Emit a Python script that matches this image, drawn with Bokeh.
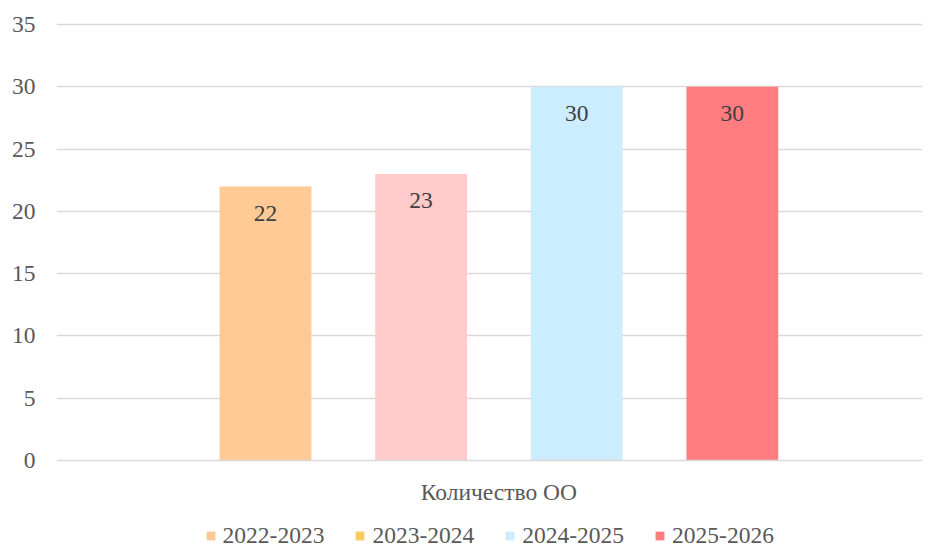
from bokeh.plotting import figure
from bokeh.models import ColumnDataSource, Range1d, FixedTicker, Legend, LegendItem, Span
from bokeh.core.properties import value
from bokeh.embed import file_html
from bokeh.resources import INLINE

category = "Количество ОО"
series = ["2022-2023", "2023-2024", "2024-2025", "2025-2026"]
values = [22, 23, 30, 30]
bar_colors = ["#FFCA96", "#FFCACA", "#CCECFF", "#FF7C80"]
legend_colors = ["#FFCA96", "#FFCA5F", "#CCECFF", "#FF7C80"]
y_ticks = [0, 5, 10, 15, 20, 25, 30, 35]

FONT = "Liberation Serif"
FS = "23.5px"

# frame spans from the top padding down to the bottom edge; the part below 0
# holds the category label and the legend
p = figure(width=922, height=549, output_backend="svg", toolbar_location=None,
           x_range=Range1d(-1.343, 4.222), y_range=Range1d(-7.144, 35.803),
           min_border_left=56, min_border_right=0, min_border_top=14,
           min_border_bottom=0)
p.outline_line_color = None
p.background_fill_color = "white"
p.border_fill_color = "white"
p.xaxis.visible = False

xs = list(range(len(series)))
src = ColumnDataSource(dict(x=xs, top=values, color=bar_colors,
                            label=[str(v) for v in values]))
p.vbar(x="x", top="top", width=0.59, color="color", line_color=None, source=src)
p.text(x="x", y="top", text="label", source=src, y_offset=27,
       text_align="center", text_baseline="middle",
       text_font=value(FONT), text_font_size=FS, text_color="#404040")

# baseline
p.add_layout(Span(location=0, dimension="width", line_color="#D9D9D9", line_width=1.6))

# category label under the group
center = (len(series) - 1) / 2
p.text(x=[center], y=[0], text=[category], y_offset=31,
       text_align="center", text_baseline="middle",
       text_font=value(FONT), text_font_size=FS, text_color="#595959")

# y axis
p.yaxis.ticker = FixedTicker(ticks=y_ticks)
p.yaxis.axis_line_color = None
p.yaxis.major_tick_line_color = None
p.yaxis.minor_tick_line_color = None
p.yaxis.major_label_standoff = 15
p.yaxis.major_label_text_font = FONT
p.yaxis.major_label_text_font_size = FS
p.yaxis.major_label_text_color = "#595959"
p.ygrid.ticker = FixedTicker(ticks=y_ticks[1:])
p.ygrid.grid_line_color = "#D9D9D9"
p.ygrid.grid_line_width = 1.5
p.xgrid.grid_line_color = None

# legend (swatch renderers placed outside the visible range)
items = []
for name, col in zip(series, legend_colors):
    r = p.rect(x=[-100], y=[-100], width=1, height=1, color=col, line_color=None)
    items.append(LegendItem(label=name, renderers=[r]))
legend = Legend(items=items, orientation="horizontal", location=(148.6, 0),
                glyph_width=11, glyph_height=11, label_standoff=7, spacing=30,
                label_text_font=FONT, label_text_font_size=FS,
                label_text_color="#595959", border_line_color=None,
                background_fill_alpha=0, padding=0, margin=0)
p.add_layout(legend)

open("out.html", "w").write(file_html(p, INLINE))
